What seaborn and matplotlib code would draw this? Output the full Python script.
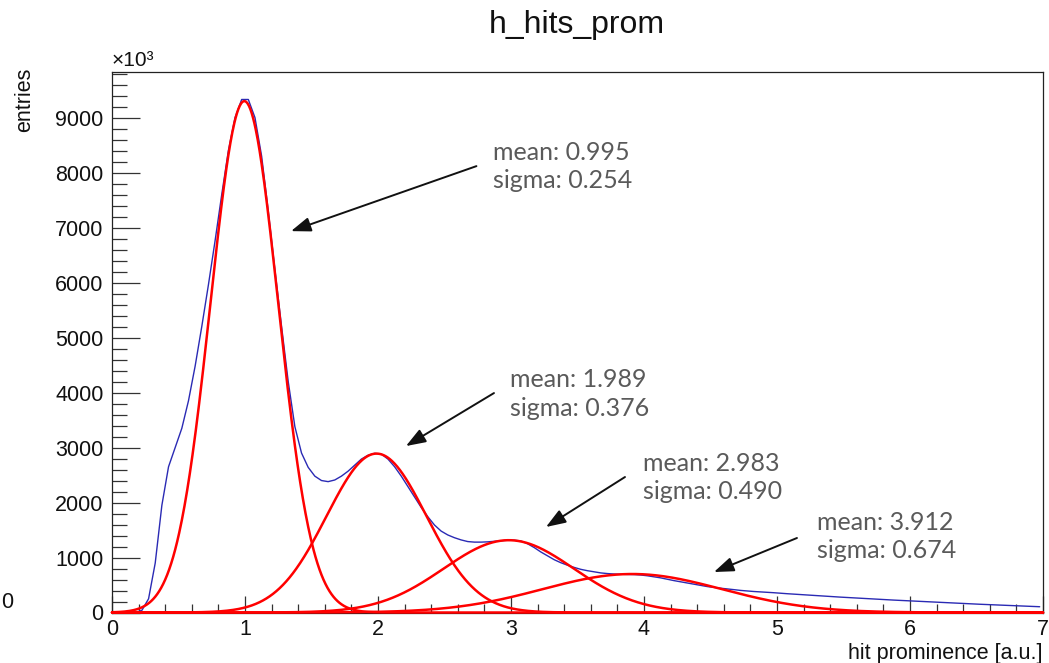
import numpy as np
import pandas as pd
import matplotlib
matplotlib.use("Agg")
import matplotlib.pyplot as plt
from matplotlib.ticker import MultipleLocator
import seaborn as sns

# ---------------- data ----------------
title = "h_hits_prom"
x_label = "hit prominence [a.u.]"
y_label = "entries"
y_multiplier = "\u00d710\u00b3"

bin_lo, bin_hi, n_bins = 0.0, 7.0, 140
hist_counts = [
    0, 0, 0, 0, 40, 250, 900, 1950, 2650, 3000,
    3350, 3850, 4480, 5200, 5960, 6760, 7600, 8400, 9000, 9330,
    9330, 9000, 8300, 7300, 6230, 5200, 4200, 3380, 2900, 2640,
    2480, 2400, 2380, 2410, 2480, 2570, 2680, 2790, 2860, 2895,
    2880, 2790, 2650, 2480, 2290, 2100, 1910, 1740, 1590, 1480,
    1410, 1360, 1320, 1290, 1280, 1280, 1285, 1295, 1305, 1315,
    1315, 1300, 1250, 1180, 1100, 1030, 960, 905, 860, 820,
    785, 760, 740, 720, 708, 700, 695, 692, 690, 682,
    668, 650, 630, 605, 580, 558, 535, 512, 492, 472,
    456, 442, 430, 416, 402, 392, 382, 375, 366, 360,
    350, 342, 334, 326, 318, 310, 302, 295, 288, 280,
    273, 266, 259, 252, 245, 238, 232, 226, 220, 214,
    208, 202, 196, 190, 184, 178, 172, 166, 160, 155,
    150, 145, 140, 135, 130, 125, 120, 115, 110, 105,
]

fit_means = [0.995, 1.989, 2.983, 3.912]
fit_sigmas = [0.254, 0.376, 0.490, 0.674]
fit_amplitudes = [9300, 2890, 1315, 700]

annot_labels = [f"mean: {m:.3f}\nsigma: {s:.3f}" for m, s in zip(fit_means, fit_sigmas)]
annot_text_pos = [(2.865, 8110), (2.992, 3973), (3.992, 2455), (5.300, 1382)]
annot_arrow_tail = [(2.74, 8118), (2.872, 3991), (3.857, 2464), (5.15, 1355)]
annot_arrow_tip = [(1.346, 6936), (2.21, 3027), (3.263, 1555), (4.526, 736)]

x_ticks = [0, 1, 2, 3, 4, 5, 6, 7]
y_ticks = [0, 1000, 2000, 3000, 4000, 5000, 6000, 7000, 8000, 9000]
x_lim = (0, 7)
y_lim = (0, 9830)

# ---------------- style ----------------
sns.set_theme(style="white")
plt.rcParams["font.family"] = ["Liberation Sans", "DejaVu Sans"]

W, H = 1049, 663
fig = plt.figure(figsize=(W / 100, H / 100), dpi=100)
ax = fig.add_axes([112 / W, 1 - 612.5 / H, (1043 - 112) / W, (612.5 - 72) / H])

bw = (bin_hi - bin_lo) / n_bins
centers = bin_lo + bw * (np.arange(n_bins) + 0.5)
df = pd.DataFrame({"x": centers, "w": np.asarray(hist_counts, dtype=float)})
sns.histplot(data=df, x="x", weights="w", binwidth=bw, binrange=(bin_lo, bin_hi),
             element="poly", fill=False, color="#2a2ab4", linewidth=1.0, ax=ax)

xf = np.linspace(x_lim[0], x_lim[1], 1401)
for m, s, a in zip(fit_means, fit_sigmas, fit_amplitudes):
    yf = a * np.exp(-0.5 * ((xf - m) / s) ** 2)
    sns.lineplot(x=xf, y=yf, color="#ff0000", linewidth=1.8, estimator=None,
                 ax=ax, clip_on=False, zorder=5)

for lab, tp, tail, tip in zip(annot_labels, annot_text_pos, annot_arrow_tail, annot_arrow_tip):
    ax.annotate("", xy=tip, xytext=tail,
                arrowprops=dict(arrowstyle="-|>,head_length=0.6,head_width=0.22",
                                color="#111111", lw=1.4, mutation_scale=20,
                                shrinkA=0, shrinkB=0), zorder=6)
    ax.text(tp[0], tp[1], lab, family=["Lato", "DejaVu Sans"], color="#5a5a5a",
            fontsize=18, ha="left", va="center", linespacing=1.3, zorder=6)

ax.set_xlim(*x_lim)
ax.set_ylim(*y_lim)
ax.set_xticks(x_ticks)
ax.set_yticks(y_ticks)
ax.set_xticklabels([str(t) for t in x_ticks])
ax.set_yticklabels([str(t) for t in y_ticks])
ax.xaxis.set_minor_locator(MultipleLocator(0.2))
ax.yaxis.set_minor_locator(MultipleLocator(200))
ax.set_xlabel("")
ax.set_ylabel("")

ax.tick_params(axis="both", which="both", direction="in", colors="#333333",
               labelcolor="#111111", labelsize=15.5, bottom=True, left=True,
               top=False, right=False, width=0.9)
ax.tick_params(axis="y", which="major", length=20, pad=6)
ax.tick_params(axis="y", which="minor", length=11)
ax.tick_params(axis="x", which="major", length=12, pad=5)
ax.tick_params(axis="x", which="minor", length=6.5)
for sp in ax.spines.values():
    sp.set_visible(True)
    sp.set_color("#222222")
    sp.set_linewidth(0.9)

fig.text(577 / W, 1 - 25 / H, title, ha="center", va="center", fontsize=23, color="#111111")
fig.text(1043 / W, 1 - 653 / H, x_label, ha="right", va="center", fontsize=15.5, color="#111111")
fig.text(25 / W, 1 - 68 / H, y_label, rotation=90, ha="center", va="top", fontsize=15.5, color="#111111")
ax.text(0, 1.012, y_multiplier, transform=ax.transAxes, ha="left", va="baseline",
        fontsize=15, color="#111111")
fig.text(1 / W, 1 - 602 / H, "0", ha="left", va="center", fontsize=15.5, color="#111111")

fig.savefig("out.png", dpi=100)
